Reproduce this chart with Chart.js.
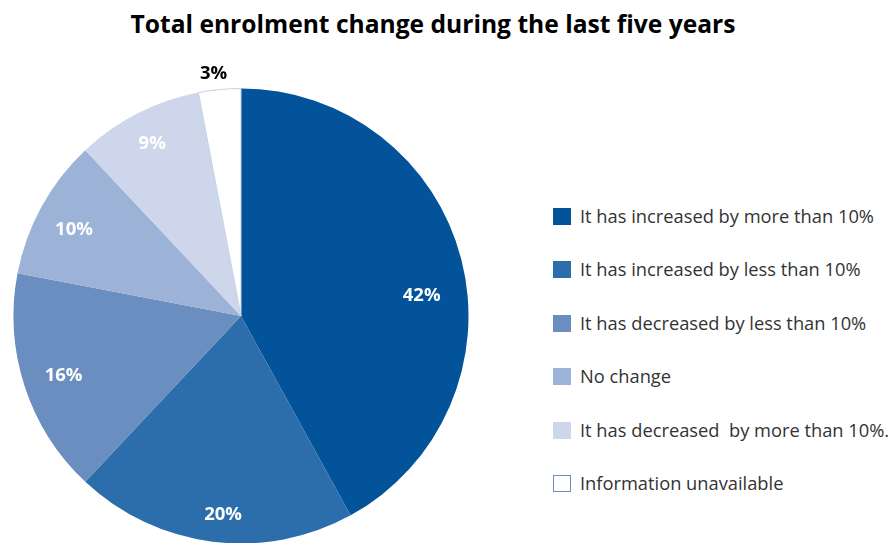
<!DOCTYPE html>
<html>
<head>
<meta charset="utf-8">
<script src="https://cdn.jsdelivr.net/npm/chart.js@4"></script>
<style>
  html, body { margin: 0; padding: 0; background: #fff; overflow: hidden; }
  #wrap { position: relative; width: 889px; height: 543px; }
  #title {
    position: absolute; left: 0; top: 7px; width: 866px; text-align: center;
    font-family: "Open Sans", sans-serif; font-weight: 700; font-size: 24.6px; color: #000;
  }
  #pieBox { position: absolute; left: 0; top: 0; width: 480px; height: 560px; }
  #legend { position: absolute; left: 553px; top: 208px; }
  .item { position: relative; height: 53.4px; }
  .box { position: absolute; left: 0; top: 0; width: 18px; height: 17px; box-sizing: border-box; }
  .txt {
    position: absolute; left: 27px; top: -5px; white-space: pre;
    font-family: "Open Sans", sans-serif; font-size: 18.3px; color: #333;
  }
</style>
</head>
<body>
<div id="wrap">
  <div id="title">Total enrolment change during the last five years</div>
  <div id="pieBox"><canvas id="pie"></canvas></div>
  <div id="legend"></div>
</div>
<script>
const categories = [
  'It has increased by more than 10%',
  'It has increased by less than 10%',
  'It has decreased by less than 10%',
  'No change',
  'It has decreased  by more than 10%.',
  'Information unavailable'
];
const shares = [42, 20, 16, 10, 9, 3];
const sliceColors = ['#03539a', '#2c6eab', '#6a8ec0', '#9db2d7', '#cdd6ea', '#ffffff'];

// label placement along each slice: fraction of radius and angle nudge (deg)
const labelRadius = [0.8, 0.87, 0.82, 0.83, 0.86, 1.08];
const labelNudge = [7.5, -2, 0, -1, 0, -1];

// legend
const legend = document.getElementById('legend');
categories.forEach((c, i) => {
  const item = document.createElement('div');
  item.className = 'item';
  const box = document.createElement('div');
  box.className = 'box';
  box.style.background = sliceColors[i];
  if (sliceColors[i] === '#ffffff') box.style.border = '1px solid #6a8ec0';
  const txt = document.createElement('div');
  txt.className = 'txt';
  txt.textContent = c;
  item.appendChild(box);
  item.appendChild(txt);
  legend.appendChild(item);
});

// percentage labels on top of the slices
const sliceLabels = {
  id: 'sliceLabels',
  afterDatasetsDraw(chart) {
    const ctx = chart.ctx;
    const meta = chart.getDatasetMeta(0);
    ctx.save();
    ctx.font = 'bold 18.5px "Open Sans", sans-serif';
    ctx.textAlign = 'center';
    ctx.textBaseline = 'middle';
    meta.data.forEach((arc, i) => {
      const p = arc.getProps(['x', 'y', 'startAngle', 'endAngle', 'outerRadius'], true);
      const mid = (p.startAngle + p.endAngle) / 2 + labelNudge[i] * Math.PI / 180;
      const r = p.outerRadius * labelRadius[i];
      ctx.fillStyle = labelRadius[i] > 1 ? '#000' : '#fff';
      ctx.fillText(shares[i] + '%', p.x + Math.cos(mid) * r, p.y + Math.sin(mid) * r + 2);
    });
    ctx.restore();
  }
};

new Chart(document.getElementById('pie'), {
  type: 'pie',
  data: {
    labels: categories,
    datasets: [{
      data: shares,
      backgroundColor: sliceColors,
      borderColor: ['#03539a', '#2c6eab', '#6a8ec0', '#9db2d7', '#cdd6ea', '#c4d0e6'],
      borderWidth: [0, 0, 0, 0, 0, 1]
    }]
  },
  options: {
    responsive: true,
    maintainAspectRatio: false,
    animation: false,
    layout: { padding: { left: 13, top: 88, right: 11, bottom: 16 } },
    plugins: {
      legend: { display: false },
      tooltip: { enabled: false }
    }
  },
  plugins: [sliceLabels]
});
</script>
</body>
</html>
